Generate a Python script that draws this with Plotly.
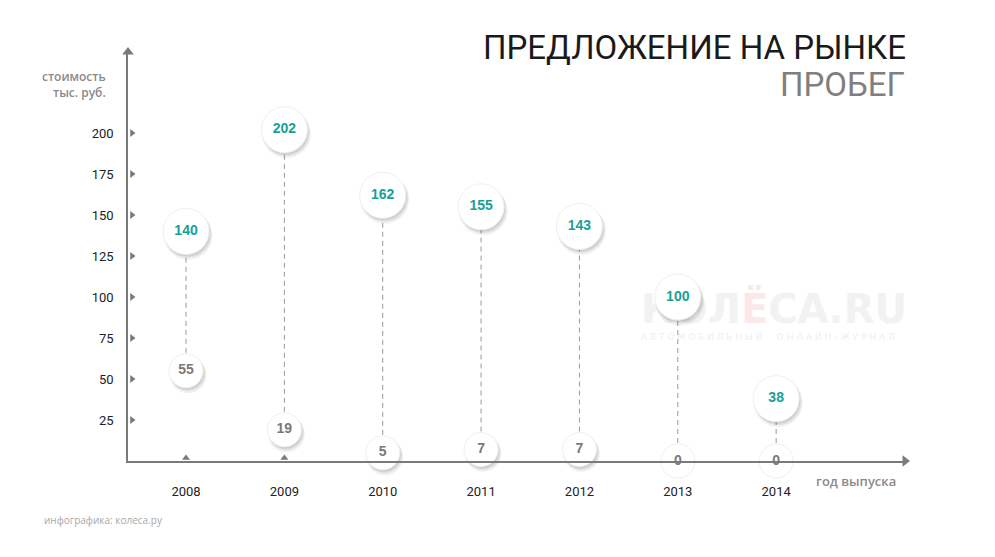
import plotly.graph_objects as go

years = [2008, 2009, 2010, 2011, 2012, 2013, 2014]
top_values = [140, 202, 162, 155, 143, 100, 38]
bottom_values = [55, 19, 5, 7, 7, 0, 0]
y_ticks = [25, 50, 75, 100, 125, 150, 175, 200]

X_MIN, X_MAX = 2007.41, 2015.31
Y_MIN, Y_MAX = 0, 249.4
PX_X = (X_MAX - X_MIN) / 777.0   # data units per pixel
PX_Y = (Y_MAX - Y_MIN) / 409.0

TEAL = "#17a196"
AXIS = "#7a7a7a"

fig = go.Figure()

# watermark (drawn first so it sits behind the circles)
fig.add_trace(go.Scatter(
    x=[X_MIN + (641 - 128) * PX_X], y=[Y_MAX - (313 - 52) * PX_Y], mode="text",
    text=["КОЛ<span style='color:#fbe8e8'>Ё</span>СА.RU"],
    textfont=dict(family="DejaVu Sans", size=40, color="#f2f2f2", weight="bold"),
    textposition="middle right",
    hoverinfo="skip", showlegend=False, cliponaxis=False))
fig.add_trace(go.Scatter(
    x=[X_MIN + (641 - 128) * PX_X], y=[Y_MAX - (338 - 52) * PX_Y], mode="text",
    text=["А В Т О М О Б И Л Ь Н Ы Й     О Н Л А Й Н - Ж У Р Н А Л"],
    textfont=dict(family="DejaVu Sans", size=9, color="#efefef"),
    textposition="middle right",
    hoverinfo="skip", showlegend=False, cliponaxis=False))

# dashed connectors
for yr, lo, hi in zip(years, bottom_values, top_values):
    fig.add_trace(go.Scatter(
        x=[yr, yr], y=[lo, hi], mode="lines",
        line=dict(color="#9a9a9a", width=1, dash="5px,4px"),
        hoverinfo="skip", showlegend=False))

# axis tick markers
fig.add_trace(go.Scatter(
    x=[X_MIN + 4 * PX_X] * len(y_ticks), y=y_ticks, mode="markers",
    marker=dict(symbol="triangle-right", size=7, color=AXIS),
    hoverinfo="skip", showlegend=False, cliponaxis=False))
fig.add_trace(go.Scatter(
    x=years, y=[3 * PX_Y] * len(years), mode="markers",
    marker=dict(symbol="triangle-up", size=7, color=AXIS),
    hoverinfo="skip", showlegend=False, cliponaxis=False))

# axis arrow heads
fig.add_trace(go.Scatter(
    x=[X_MIN], y=[Y_MAX], mode="markers",
    marker=dict(symbol="triangle-up", size=10, color=AXIS),
    hoverinfo="skip", showlegend=False, cliponaxis=False))
fig.add_trace(go.Scatter(
    x=[X_MAX], y=[Y_MIN], mode="markers",
    marker=dict(symbol="triangle-right", size=10, color=AXIS),
    hoverinfo="skip", showlegend=False, cliponaxis=False))


def circles(values, size, text_color):
    # soft shadow layers, offset down-right
    for grow, alpha, dx, dy in [(3, 0.05, 2, 4), (1, 0.07, 2, 3), (0, 0.08, 1, 2)]:
        fig.add_trace(go.Scatter(
            x=[v + dx * PX_X for v in years], y=[v - dy * PX_Y for v in values],
            mode="markers",
            marker=dict(size=size + grow, color=f"rgba(0,0,0,{alpha})", line=dict(width=0)),
            hoverinfo="skip", showlegend=False, cliponaxis=False))
    fig.add_trace(go.Scatter(
        x=years, y=values, mode="markers+text",
        marker=dict(size=size, color="white", line=dict(color="#f0f0f0", width=1)),
        text=[str(v) for v in values], textposition="middle center",
        textfont=dict(family="Liberation Sans", size=14, color=text_color, weight="bold"),
        hoverinfo="skip", showlegend=False, cliponaxis=False))


circles(bottom_values, 34, "#7a7a7a")
circles(top_values, 46, TEAL)

fig.update_layout(
    width=995, height=557,
    margin=dict(l=128, r=90, t=52, b=96, autoexpand=False),
    paper_bgcolor="white", plot_bgcolor="white",
    font=dict(family="Roboto", color="#222"),
    xaxis=dict(range=[X_MIN, X_MAX], tickvals=years, ticktext=[str(y) for y in years],
               showgrid=False, zeroline=False, showline=True, linecolor=AXIS, linewidth=1.5,
               ticks="", ticklabelstandoff=18, tickfont=dict(family="Roboto", size=13, color="#222")),
    yaxis=dict(range=[Y_MIN, Y_MAX], tickvals=y_ticks, ticktext=[str(v) for v in y_ticks],
               showgrid=False, zeroline=False, showline=True, linecolor=AXIS, linewidth=1.5,
               ticks="", ticklabelstandoff=10, tickfont=dict(family="Roboto", size=13, color="#222")),
    annotations=[
        dict(text="ПРЕДЛОЖЕНИЕ НА РЫНКЕ", xref="paper", yref="paper",
             x=(908 - 128) / 777, y=(461 - 47) / 409, xanchor="right", yanchor="middle",
             showarrow=False, font=dict(family="Roboto", size=33, color="#1a1a1a")),
        dict(text="ПРОБЕГ", xref="paper", yref="paper",
             x=(907 - 128) / 777, y=(461 - 84) / 409, xanchor="right", yanchor="middle",
             showarrow=False, font=dict(family="Roboto", size=33, color="#7f7f7f")),
        dict(text="стоимость<br>тыс. руб.", xref="paper", yref="paper", align="right",
             x=(108 - 128) / 777, y=(461 - 84) / 409, xanchor="right", yanchor="middle",
             showarrow=False, font=dict(family="Open Sans", size=12, color="#8a8a8a", weight=600)),
        dict(text="год выпуска", xref="paper", yref="paper",
             x=(898 - 128) / 777, y=(461 - 481) / 409, xanchor="right", yanchor="middle",
             showarrow=False, font=dict(family="Open Sans", size=13, color="#8a8a8a", weight=600)),
        dict(text="инфографика: колеса.ру", xref="paper", yref="paper",
             x=(42 - 128) / 777, y=(461 - 520) / 409, xanchor="left", yanchor="middle",
             showarrow=False, font=dict(family="Open Sans", size=10, color="#a8a8a8")),
    ],
)

fig.write_html("out.html", config={"displayModeBar": False},
               post_script="document.body.style.margin='0';")
